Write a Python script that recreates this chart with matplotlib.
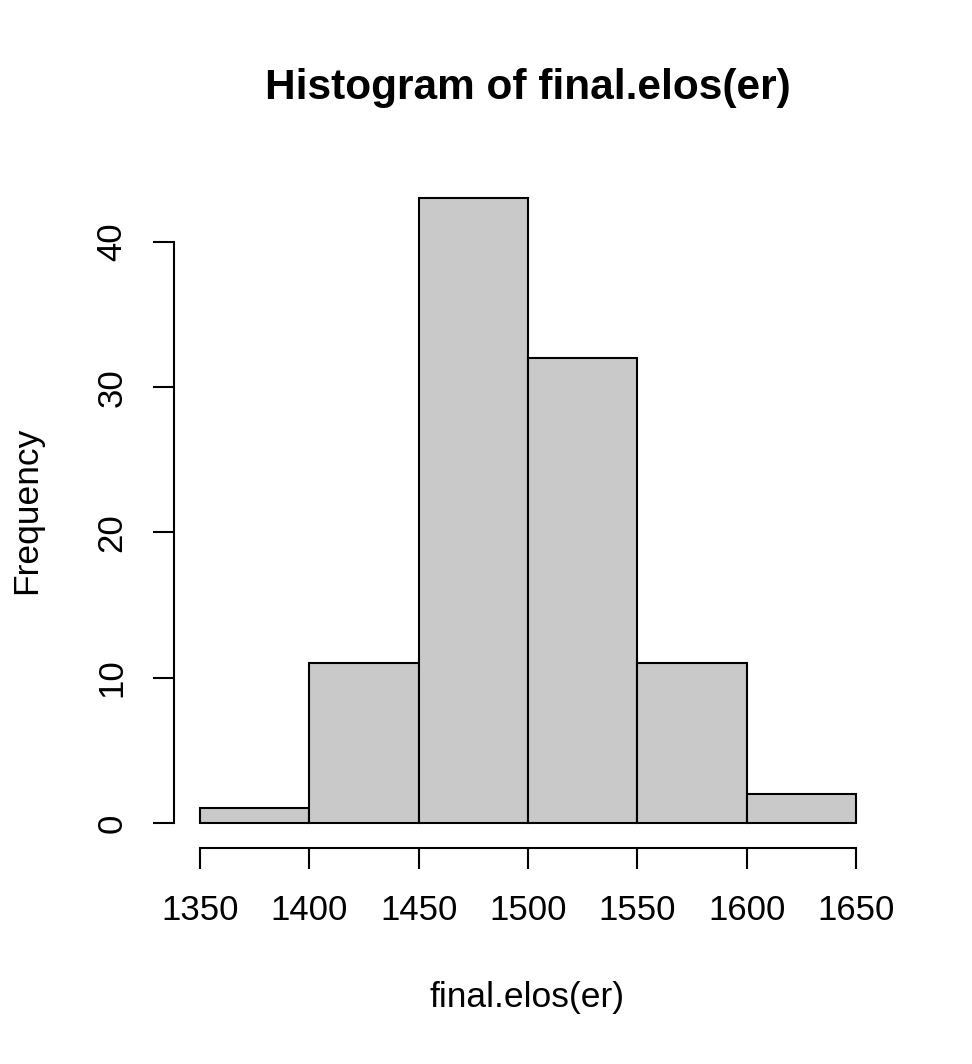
import matplotlib
matplotlib.use("Agg")
import matplotlib.pyplot as plt
import numpy as np

edges = [1350, 1400, 1450, 1500, 1550, 1600, 1650]
counts = [1, 11, 43, 32, 11, 2]
xticks = [1350, 1400, 1450, 1500, 1550, 1600, 1650]
yticks = [0, 10, 20, 30, 40]
title = "Histogram of final.elos(er)"
xlabel = "final.elos(er)"
ylabel = "Frequency"

plt.rcParams['font.family'] = ['Liberation Sans', 'DejaVu Sans']
W, H = 972, 1064
fig = plt.figure(figsize=(W/100, H/100), dpi=100)
x0, x1 = 173.8, 882.2
y0, y1 = 173.4, 848.0
ax = fig.add_axes([x0/W, 1 - y1/H, (x1-x0)/W, (y1-y0)/H])

ax.hist(edges[:-1], bins=edges, weights=counts, color='#c9c9c9',
        edgecolor='black', linewidth=1.5)
xr = edges[-1] - edges[0]
ax.set_xlim(edges[0] - 0.04*xr, edges[-1] + 0.04*xr)
ym = max(counts)
ax.set_ylim(-0.04*ym, ym*1.04)

for s in ['top', 'right']:
    ax.spines[s].set_visible(False)
ax.spines['left'].set_bounds(yticks[0], yticks[-1])
ax.spines['bottom'].set_bounds(xticks[0], xticks[-1])
for s in ['left', 'bottom']:
    ax.spines[s].set_linewidth(1.5)

ax.set_xticks(xticks)
ax.set_yticks(yticks)
ax.tick_params(axis='both', length=15, width=1.5, labelsize=25, direction='out')
ax.tick_params(axis='x', pad=18)
ax.tick_params(axis='y', pad=17.5, labelrotation=90)
for lab in ax.get_yticklabels():
    lab.set_va('center')

fig.text(528/W, 1 - 88/H, title, ha='center', va='center', fontsize=30.5, fontweight='bold')
fig.text(527/W, 1 - 997/H, xlabel, ha='center', va='center', fontsize=25.5)
fig.text(27/W, 1 - 510/H, ylabel, ha='center', va='center', fontsize=25.5, rotation=90)

fig.savefig("out.png", dpi=100, facecolor='white')
